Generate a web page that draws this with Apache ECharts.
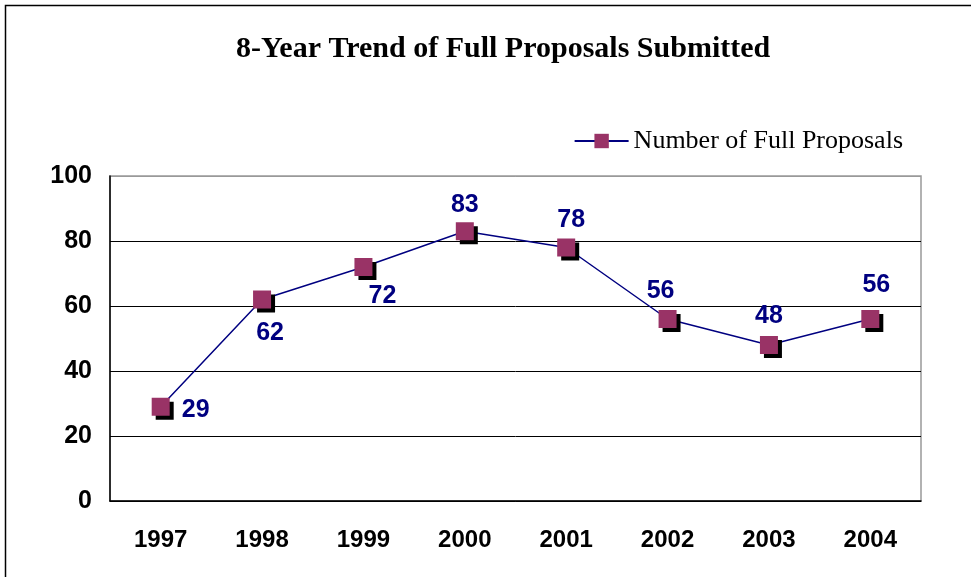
<!DOCTYPE html>
<html><head><meta charset="utf-8">
<script src="https://cdn.jsdelivr.net/npm/echarts@6/dist/echarts.min.js"></script>
<style>html,body{margin:0;padding:0;background:#fff}#c{width:971px;height:577px}</style>
</head><body><div id="c"></div>
<script>
const years = ['1997','1998','1999','2000','2001','2002','2003','2004'];
const proposals = [29, 62, 72, 83, 78, 56, 48, 56];
const seriesName = 'Number of Full Proposals';
const titleText = '8-Year Trend of Full Proposals Submitted';
const yTicks = [0, 20, 40, 60, 80, 100];
// label placement per point (style only)
const labelOffsets = [[35,3],[8,34],[19,29],[0,-26],[5,-27],[-7,-28],[0,-29],[6,-34]];

const chart = echarts.init(document.getElementById('c'), null, {renderer:'canvas'});
chart.setOption({
  animation:false,
  backgroundColor:'#fff',
  title:{text:titleText,left:231,top:29,
    textStyle:{fontFamily:'Liberation Serif',fontWeight:'bold',fontSize:30,color:'#000'}},
  legend:{data:[seriesName],right:63,top:123,itemWidth:54,itemHeight:18,itemGap:8,
    textStyle:{fontFamily:'Liberation Serif',fontSize:26,color:'#000'}},
  graphic:[{type:'rect',shape:{x:5.5,y:5.5,width:1000,height:1000},style:{fill:null,stroke:'#000',lineWidth:1.5},silent:true}],
  grid:{left:110,right:50,top:176,bottom:76,show:true,borderColor:'#999',borderWidth:1.5,backgroundColor:'#fff'},
  xAxis:{type:'category',data:years,boundaryGap:true,
    axisLine:{lineStyle:{color:'#000',width:1.5}},
    axisTick:{inside:true,length:7,lineStyle:{color:'#000'}},
    axisLabel:{margin:27,fontFamily:'Liberation Sans',fontWeight:'bold',fontSize:24,color:'#000'}},
  yAxis:{type:'value',min:yTicks[0],max:yTicks[yTicks.length-1],interval:20,
    axisLine:{show:true,lineStyle:{color:'#000',width:1.5}},
    axisTick:{show:false},
    splitLine:{show:true,lineStyle:{color:['#000','#000','#000','#000','#000','#999'],width:1}},
    axisLabel:{margin:18,fontFamily:'Liberation Sans',fontWeight:'bold',fontSize:25,color:'#000'}},
  series:[{
    name:seriesName,type:'line',
    data:proposals.map((v,i)=>({value:v,label:{offset:labelOffsets[i]}})),
    symbol:'rect',symbolSize:18,
    lineStyle:{color:'#000080',width:1.5},
    itemStyle:{color:'#993366',shadowColor:'#000',shadowBlur:0,shadowOffsetX:4,shadowOffsetY:4},
    label:{show:true,position:'inside',fontFamily:'Liberation Sans',fontWeight:'bold',fontSize:25,color:'#000080'},
    z:3
  }]
});
</script></body></html>
